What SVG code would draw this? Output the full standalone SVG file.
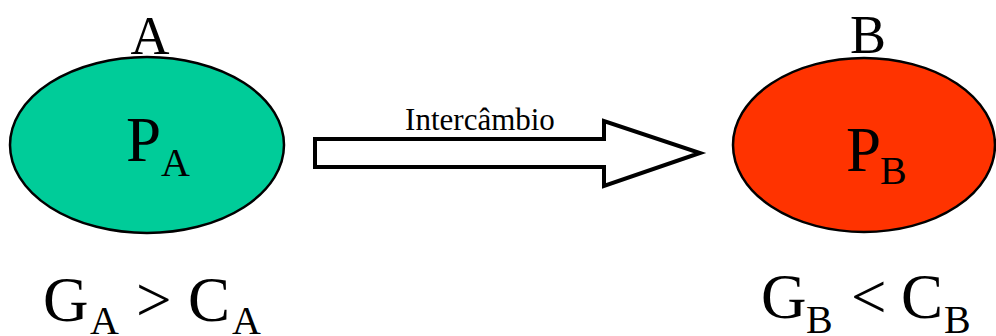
<svg xmlns="http://www.w3.org/2000/svg" width="996" height="336" viewBox="0 0 996 336" font-family="'Liberation Serif', 'DejaVu Serif', serif">
<style>
text{font-family:'Liberation Serif','DejaVu Serif',serif;fill:#000}
.big{font-size:63px}
.lbl{font-size:54px}
.sub{font-size:40px}
.node{stroke:#000;stroke-width:2.5}
</style>
<rect width="996" height="336" fill="#fff"/>
<g id="nodeA">
<ellipse class="node" cx="147" cy="145" rx="137" ry="88" fill="#00CC99"/>
<text class="lbl" x="150" y="54" text-anchor="middle">A</text>
<text class="big" x="126" y="161">P</text>
<text class="sub" x="161" y="176">A</text>
</g>
<g id="nodeB">
<ellipse class="node" cx="864" cy="145" rx="131" ry="87" fill="#FF3300"/>
<text class="lbl" x="868" y="53" text-anchor="middle">B</text>
<text class="big" x="846" y="171">P</text>
<text class="sub" x="880" y="184">B</text>
</g>
<g id="connectors">
<polygon points="315,139 604,139 604,121 700,153 604,186 604,167 315,167" fill="#fff" stroke="#000" stroke-width="4" stroke-linejoin="miter"/>
<text x="480" y="130" font-size="31" text-anchor="middle">Intercâmbio</text>
</g>
<g id="condA">
<text class="big" x="43" y="321">G</text>
<text class="sub" x="90" y="334">A</text>
<text class="big" x="136" y="321">&gt;</text>
<text class="big" x="188" y="321">C</text>
<text class="sub" x="232" y="334">A</text>
</g>
<g id="condB">
<text class="big" x="761" y="318">G</text>
<text class="sub" x="806" y="333">B</text>
<text class="big" x="851" y="318">&lt;</text>
<text class="big" x="901" y="318">C</text>
<text class="sub" x="944" y="333">B</text>
</g>
</svg>
